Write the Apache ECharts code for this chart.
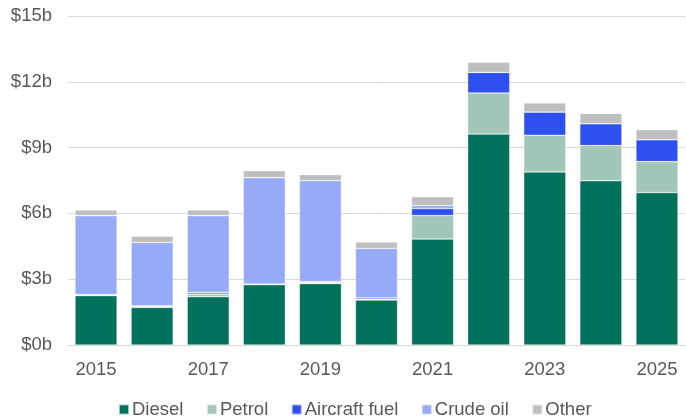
<!DOCTYPE html>
<html>
<head>
<meta charset="utf-8">
<style>
  html, body { margin: 0; padding: 0; background: #fff; }
  #main { width: 686px; height: 419px; }
</style>
<script src="https://cdn.jsdelivr.net/npm/echarts@6/dist/echarts.min.js"></script>
</head>
<body>
<div id="main"></div>
<script>
var years = ['2015', '2016', '2017', '2018', '2019', '2020', '2021', '2022', '2023', '2024', '2025'];
var diesel   = [2.25, 1.71, 2.2, 2.75, 2.8, 2.05, 4.83, 9.62, 7.89, 7.49, 6.95];
var petrol   = [0.05, 0.05, 0.12, 0.03, 0.06, 0.03, 1.07, 1.87, 1.67, 1.6, 1.41];
var aircraft = [0.0, 0.03, 0.08, 0.0, 0.03, 0.07, 0.32, 0.94, 1.06, 1.0, 1.0];
var crude    = [3.6, 2.88, 3.5, 4.85, 4.6, 2.25, 0.14, 0.0, 0.0, 0.0, 0.0];
var other    = [0.26, 0.29, 0.26, 0.32, 0.28, 0.3, 0.4, 0.46, 0.42, 0.47, 0.46];
var yTicks = ['$0b', '$3b', '$6b', '$9b', '$12b', '$15b'];

var chart = echarts.init(document.getElementById('main'));

function mk(name, data, color) {
  return {
    name: name,
    type: 'bar',
    stack: 'total',
    data: data,
    barCategoryGap: '25%',
    itemStyle: { color: color, borderColor: 'rgba(255,255,255,0.6)', borderWidth: 0.6 }
  };
}

chart.setOption({
  animation: false,
  textStyle: { fontFamily: 'Liberation Sans, Arial, sans-serif' },
  grid: { left: 68, right: 1, top: 16, bottom: 74 },
  legend: {
    top: 395,
    left: 113,
    icon: 'rect',
    itemWidth: 10,
    itemHeight: 10,
    itemGap: 22.5,
    textStyle: { color: '#595959', fontSize: 18.5, padding: [0, 0, 0, -2] },
    data: ['Diesel', 'Petrol', 'Aircraft fuel', 'Crude oil', 'Other']
  },
  xAxis: {
    type: 'category',
    data: years,
    axisTick: { show: false },
    axisLine: { lineStyle: { color: '#d9d9d9', width: 1 } },
    axisLabel: { interval: 1, color: '#595959', fontSize: 18.5, margin: 15 }
  },
  yAxis: {
    type: 'value',
    min: 0,
    max: 15,
    interval: 3,
    axisLabel: {
      color: '#595959',
      fontSize: 18.5,
      margin: 16,
      formatter: function (v) { return yTicks[Math.round(v / 3)]; }
    },
    splitLine: { lineStyle: { color: '#d9d9d9', width: 1 } }
  },
  series: [
    mk('Diesel', diesel, '#00715a'),
    mk('Petrol', petrol, '#a2c7b8'),
    mk('Aircraft fuel', aircraft, '#2f50f0'),
    mk('Crude oil', crude, '#97aaf8'),
    mk('Other', other, '#bfbfbf')
  ]
});
</script>
</body>
</html>
